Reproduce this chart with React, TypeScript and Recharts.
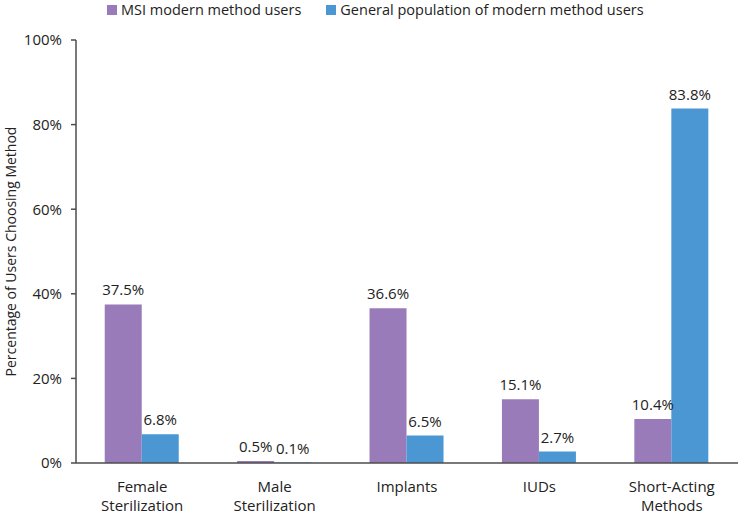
import { Bar, BarChart, LabelList, XAxis, YAxis } from "recharts";

const categories = ["Female|Sterilization", "Male|Sterilization", "Implants", "IUDs", "Short-Acting|Methods"];
const msiUsers = [37.5, 0.5, 36.6, 15.1, 10.4];
const generalUsers = [6.8, 0.1, 6.5, 2.7, 83.8];
const yTicks = [0, 20, 40, 60, 80, 100];

const data = categories.map((name, i) => ({
  name,
  msi: msiUsers[i],
  general: generalUsers[i]
}));

const FONT = "'Open Sans', sans-serif";
const PURPLE = "#9A7BB9";
const BLUE = "#4A97D3";
const AXIS = "#4d4d4d";

function CategoryTick({ x, y, payload }: any) {
  const lines = String(payload.value).split("|");
  return (
    <text x={x} y={y} textAnchor="middle" fill="#222" fontSize={15} fontFamily={FONT}>
      {lines.map((line, i) => (
        <tspan key={i} x={x} dy={i === 0 ? 21 : 19}>
          {line}
        </tspan>
      ))}
    </text>
  );
}

const pct = (v: any) => `${Number(v).toFixed(1)}%`;

export default function App() {
  return (
    <div style={{ position: "relative", width: 740, height: 514, fontFamily: FONT }}>
      <style>{`body{margin:0}`}</style>
      <div
        style={{
          position: "absolute",
          top: 0,
          left: 107,
          display: "flex",
          alignItems: "center",
          fontSize: 14.5,
          color: "#222",
          lineHeight: "20px",
          whiteSpace: "nowrap"
        }}
      >
        <span style={{ width: 10, height: 10, background: PURPLE, marginRight: 4, display: "inline-block" }} />
        <span style={{ marginRight: 25 }}>MSI modern method users</span>
        <span style={{ width: 10, height: 10, background: BLUE, marginRight: 4, display: "inline-block" }} />
        <span>General population of modern method users</span>
      </div>
      <BarChart
        width={740}
        height={514}
        data={data}
        margin={{ top: 40, right: 2, bottom: 0, left: 0 }}
        barGap={0}
        barCategoryGap="21.7%"
      >
        <XAxis
          dataKey="name"
          height={51}
          axisLine={{ stroke: AXIS, strokeWidth: 1.5 }}
          tickLine={false}
          interval={0}
          tick={<CategoryTick />}
        />
        <YAxis
          width={76}
          domain={[0, 100]}
          ticks={yTicks}
          tickFormatter={(v) => `${v}%`}
          axisLine={{ stroke: AXIS, strokeWidth: 1.5 }}
          tickLine={{ stroke: AXIS, strokeWidth: 1.5 }}
          tickSize={5}
          tickMargin={9}
          tick={{ fill: "#222", fontSize: 15, fontFamily: FONT }}
          label={{
            value: "Percentage of Users Choosing Method",
            angle: -90,
            position: "insideLeft",
            dx: 6,
            dy: 0,
            style: { textAnchor: "middle", fill: "#222", fontSize: 14, fontFamily: FONT }
          }}
        />
        <Bar dataKey="msi" fill={PURPLE} isAnimationActive={false}>
          <LabelList dataKey="msi" position="top" offset={9} formatter={pct} fill="#222" fontSize={15} fontFamily={FONT} />
        </Bar>
        <Bar dataKey="general" fill={BLUE} isAnimationActive={false}>
          <LabelList dataKey="general" position="top" offset={9} formatter={pct} fill="#222" fontSize={15} fontFamily={FONT} />
        </Bar>
      </BarChart>
    </div>
  );
}
